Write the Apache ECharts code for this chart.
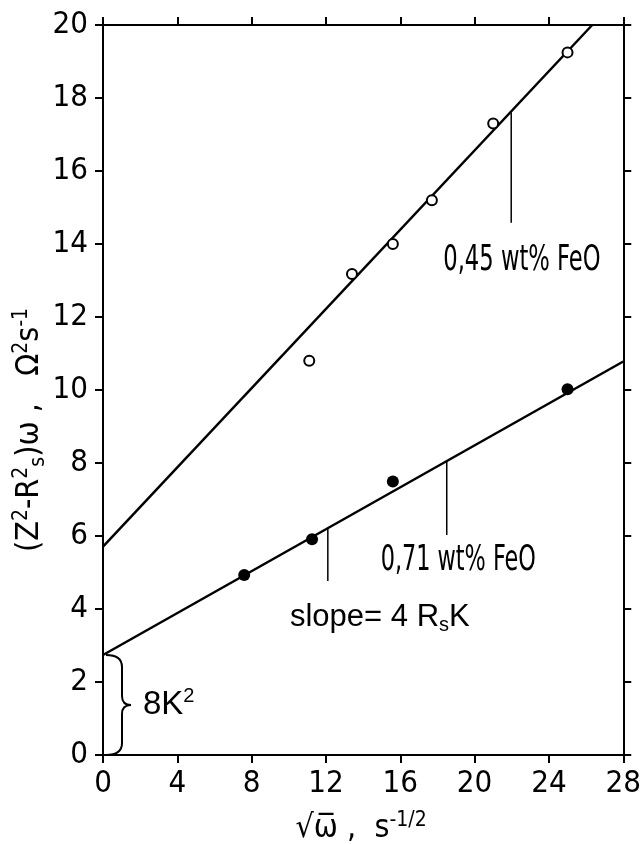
<!DOCTYPE html>
<html>
<head>
<meta charset="utf-8">
<script src="https://cdn.jsdelivr.net/npm/echarts@6/dist/echarts.min.js"></script>
<style>
  html, body { margin: 0; padding: 0; background: #fff; }
  #main { width: 644px; height: 844px; }
</style>
</head>
<body>
<div id="main"></div>
<script>
// axis ticks
var xTicks = [0, 4, 8, 12, 16, 20, 24, 28];
var yTicks = [0, 2, 4, 6, 8, 10, 12, 14, 16, 18, 20];

// 0,45 wt% FeO (open circles)
var openX = [11.1, 13.4, 15.6, 17.7, 21.0, 25.0];
var openY = [10.8, 13.18, 14.0, 15.2, 17.3, 19.25];
// 0,71 wt% FeO (filled circles)
var filledX = [7.6, 11.25, 15.6, 25.0];
var filledY = [4.93, 5.91, 7.49, 10.02];

// fitted straight lines (end points)
var upperFitX = [0, 26.33];
var upperFitY = [5.71, 20];
var lowerFitX = [0, 28];
var lowerFitY = [2.74, 10.78];

// small pointer lines from the fits down to the labels
var pointerX = [21.97, 18.5, 12.1];
var pointerTop = [17.6, 8.05, 6.2];
var pointerBottom = [14.58, 6.03, 4.77];

// intercept 8K^2
var braceTop = 2.74;

function zip(xs, ys) {
    return xs.map(function (x, i) { return [x, ys[i]]; });
}

var narrow = "'Liberation Sans Narrow', 'DejaVu Sans Condensed', sans-serif";
var plain = "'Liberation Sans', 'DejaVu Sans', sans-serif";

var chart = echarts.init(document.getElementById('main'));

function axisBase(pos, showLabel, isX) {
    return {
        type: 'value',
        position: pos,
        min: isX ? xTicks[0] : yTicks[0],
        max: isX ? xTicks[xTicks.length - 1] : yTicks[yTicks.length - 1],
        interval: isX ? 4 : 2,
        axisLine: { show: true, onZero: false, lineStyle: { color: '#000', width: 2 } },
        axisTick: { show: true, inside: false, length: 8, lineStyle: { color: '#000', width: 2 } },
        axisLabel: {
            show: showLabel,
            color: '#000',
            fontSize: 31,
            fontFamily: narrow,
            margin: isX ? 13 : 15
        },
        splitLine: { show: false }
    };
}

var series = [
    {
        type: 'line',
        data: zip(upperFitX, upperFitY),
        showSymbol: false,
        lineStyle: { color: '#000', width: 2.5 },
        z: 2,
        silent: true
    },
    {
        type: 'line',
        data: zip(lowerFitX, lowerFitY),
        showSymbol: false,
        lineStyle: { color: '#000', width: 2.5 },
        z: 2,
        silent: true
    }
];

pointerX.forEach(function (x, i) {
    series.push({
        type: 'line',
        data: [[x, pointerTop[i]], [x, pointerBottom[i]]],
        showSymbol: false,
        lineStyle: { color: '#000', width: 1.5 },
        z: 2,
        silent: true
    });
});

series.push({
    type: 'scatter',
    data: zip(openX, openY),
    symbol: 'circle',
    symbolSize: 10,
    itemStyle: { color: '#fff', borderColor: '#000', borderWidth: 2, opacity: 1 },
    z: 4
});
series.push({
    type: 'scatter',
    data: zip(filledX, filledY),
    symbol: 'circle',
    symbolSize: 12,
    itemStyle: { color: '#000', opacity: 1 },
    z: 4
});

chart.setOption({
    animation: false,
    backgroundColor: '#fff',
    grid: { left: 103, right: 16, top: 25, bottom: 89 },
    xAxis: [axisBase('bottom', true, true), axisBase('top', false, true)],
    yAxis: [axisBase('left', true, false), axisBase('right', false, false)],
    series: series
});

function px(x, y) {
    return chart.convertToPixel({ xAxisIndex: 0, yAxisIndex: 0 }, [x, y]);
}

var supSub = {
    n: { fontSize: 32, fontFamily: narrow, color: '#000', lineHeight: 38, verticalAlign: 'middle' },
    sup: { fontSize: 21, fontFamily: narrow, color: '#000', lineHeight: 20, verticalAlign: 'top' },
    sub: { fontSize: 21, fontFamily: narrow, color: '#000', lineHeight: 20, verticalAlign: 'bottom' }
};
var supSubPlain = {
    n: { fontSize: 31, fontFamily: plain, color: '#000', lineHeight: 36, verticalAlign: 'middle' },
    sub: { fontSize: 20, fontFamily: plain, color: '#000', lineHeight: 18, verticalAlign: 'bottom' }
};

// brace for 8K^2, pieced from curves and lines
var b0 = px(0, 0), b1 = px(0, braceTop);
var x0 = b0[0] + 3, xb = b0[0] + 19, xt = b0[0] + 28;
var yb = b0[1], yt = b1[1], ym = (yb + yt) / 2;
var braceStyle = { stroke: '#000', lineWidth: 2, fill: null };
function quad(ax, ay, cx, cy, bx, by) {
    return { type: 'bezierCurve', silent: true, style: braceStyle,
        shape: { x1: ax, y1: ay, cpx1: cx, cpy1: cy, x2: bx, y2: by } };
}
function seg(ax, ay, bx, by) {
    return { type: 'line', silent: true, style: braceStyle,
        shape: { x1: ax, y1: ay, x2: bx, y2: by } };
}
var brace = [
    quad(x0, yt, xb, yt, xb, yt + 12),
    seg(xb, yt + 12, xb, ym - 9),
    quad(xb, ym - 9, xb, ym, xt, ym),
    quad(xt, ym, xb, ym, xb, ym + 9),
    seg(xb, ym + 9, xb, yb - 12),
    quad(xb, yb - 12, xb, yb, x0, yb)
];

var p045 = px(pointerX[0], pointerBottom[0]);
var p071 = px(pointerX[1], pointerBottom[1]);
var pSlope = px(pointerX[2], pointerBottom[2]);
var gridLeft = px(0, 0)[0];
var gridRight = px(28, 0)[0];

chart.setOption({
    graphic: brace.concat([
        {
            type: 'text',
            x: xt + 12, y: ym,
            style: {
                text: '{n|8K}{sup|2}',
                rich: {
                    n: { fontSize: 33, fontFamily: plain, color: '#000', lineHeight: 38, verticalAlign: 'middle' },
                    sup: { fontSize: 20, fontFamily: plain, color: '#000', lineHeight: 19, verticalAlign: 'top' }
                },
                textAlign: 'left', textVerticalAlign: 'middle'
            }
        },
        {
            type: 'text',
            x: p045[0] - 68, y: p045[1] + 38,
            scaleX: 0.7,
            style: {
                text: '0,45 wt% FeO', font: '36px ' + narrow, fill: '#000',
                textAlign: 'left', textVerticalAlign: 'middle'
            }
        },
        {
            type: 'text',
            x: p071[0] - 66, y: p071[1] + 26,
            scaleX: 0.69,
            style: {
                text: '0,71 wt% FeO', font: '36px ' + narrow, fill: '#000',
                textAlign: 'left', textVerticalAlign: 'middle'
            }
        },
        {
            type: 'text',
            x: pSlope[0] + 52, y: pSlope[1] + 37,
            style: {
                text: '{n|slope= 4 R}{sub|s}{n|K}',
                rich: supSubPlain,
                textAlign: 'center', textVerticalAlign: 'middle'
            }
        },
        {
            type: 'text',
            x: 30, y: 430,
            rotation: Math.PI / 2,
            style: {
                text: '{n|(Z}{sup|2}{n|-R}{sup|2}{sub|s}{n|)ω ,   Ω}{sup|2}{n|s}{sup|-1}',
                rich: supSub,
                textAlign: 'center', textVerticalAlign: 'middle'
            }
        },
        {
            type: 'text',
            x: (gridLeft + gridRight) / 2 - 2, y: 829,
            style: {
                text: '{n|√ω̅ ,  s}{sup|-1/2}',
                rich: supSub,
                textAlign: 'center', textVerticalAlign: 'middle'
            }
        }
    ])
});
</script>
</body>
</html>
